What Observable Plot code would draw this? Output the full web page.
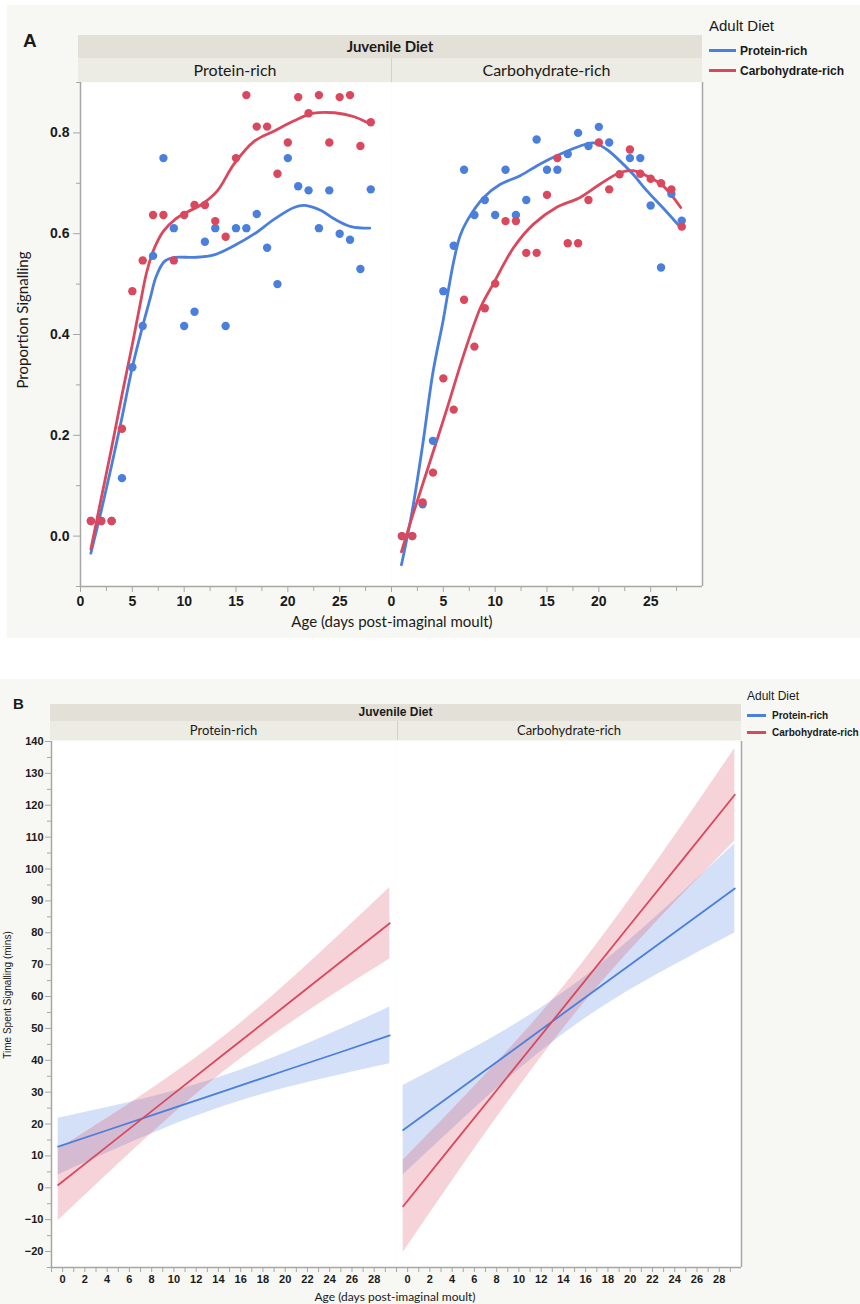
<!DOCTYPE html>
<html>
<head>
<meta charset="utf-8">
<script src="https://cdn.jsdelivr.net/npm/d3@7"></script>
<script src="https://cdn.jsdelivr.net/npm/@observablehq/plot@0.6"></script>
<style>
  body { margin: 0; background: #ffffff; }
  #root { position: relative; width: 860px; height: 1304px; overflow: hidden; font-family: "Liberation Sans", Arial, sans-serif; color: #1a1a1a; }
  #root svg { position: absolute; left: 0; overflow: visible; }
</style>
</head>
<body>
<div id="root"></div>
<script>
// ---------------- DATA ----------------
const juvenileDiets = ["Protein-rich", "Carbohydrate-rich"];
const adultDiets = ["Protein-rich", "Carbohydrate-rich"];
const ages = [1,2,3,4,5,6,7,8,9,10,11,12,13,14,15,16,17,18,19,20,21,22,23,24,25,26,27,28];

// Panel A: proportion signalling (JP = juvenile protein-rich, JC = juvenile carbohydrate-rich; AP / AC = adult diet)
const propJP_AP = [0.03,0.03,0.03,0.115,0.335,0.417,0.556,0.75,0.611,0.417,0.445,0.584,0.611,0.417,0.611,0.611,0.639,0.572,0.50,0.75,0.694,0.686,0.611,0.686,0.60,0.588,0.530,0.688];
const propJP_AC = [0.03,0.03,0.03,0.213,0.486,0.547,0.637,0.637,0.547,0.637,0.657,0.657,0.625,0.594,0.75,0.875,0.8125,0.8125,0.719,0.781,0.871,0.839,0.875,0.781,0.871,0.875,0.774,0.821];
const propJC_AP = [0,0,0.063,0.189,0.486,0.576,0.727,0.637,0.667,0.637,0.727,0.637,0.667,0.787,0.727,0.727,0.758,0.80,0.774,0.812,0.781,null,0.75,0.75,0.656,0.533,0.679,0.626];
const propJC_AC = [0,0,0.067,0.126,0.313,0.251,0.469,0.376,0.452,0.501,0.625,0.625,0.562,0.562,0.677,0.75,0.581,0.581,0.667,0.781,0.688,0.718,0.767,0.719,0.709,0.70,0.688,0.614];

// Panel A: smoothers
const smJP_AP_age = [1,2,3,4,5,6,6.7,7.3,8.1,9.1,11,12.9,14.8,16.8,18.7,20.6,21.6,23.2,24.5,26.1,27.9];
const smJP_AP     = [-0.034,0.05,0.14,0.235,0.335,0.417,0.47,0.515,0.545,0.553,0.553,0.558,0.576,0.60,0.629,0.652,0.656,0.646,0.629,0.614,0.611];
const smJP_AC_age = [1,2,3,4,5,5.8,6.4,7.1,8.0,9.1,10.3,11.6,13.2,14.8,16.8,18.7,20.6,22.5,24.5,26.4,27.9];
const smJP_AC     = [-0.026,0.075,0.175,0.28,0.38,0.465,0.525,0.57,0.605,0.628,0.643,0.657,0.685,0.738,0.784,0.804,0.824,0.839,0.840,0.832,0.818];
const smJC_AP_age = [0.96,2,3,4,5,5.5,6,6.6,7.3,8.9,10.5,12.4,14.3,16.3,18.2,19.5,20.7,22,23.3,24.6,26.2,27.9];
const smJC_AP     = [-0.057,0.05,0.18,0.325,0.43,0.49,0.545,0.595,0.626,0.672,0.698,0.715,0.738,0.758,0.774,0.78,0.768,0.745,0.718,0.686,0.651,0.612];
const smJC_AC_age = [0.96,2.1,3.75,5.4,7,8.6,9.8,11.8,13.7,15.9,18.2,20.1,22,23.3,24.6,26.2,27.9];
const smJC_AC     = [-0.031,0.045,0.15,0.256,0.362,0.454,0.50,0.573,0.619,0.652,0.672,0.698,0.721,0.725,0.715,0.695,0.652];

// Panel B: time spent signalling, fitted lines with confidence bands
const fitAges = [-0.4, 4, 9, 14.5, 20, 25, 29.4];
const tJP_AP_fit = [12.9, 18.05, 23.9, 30.35, 36.8, 42.6, 47.8];
const tJP_AP_lo  = [4.0, 10.9, 18.4, 25.55, 31.3, 35.5, 38.9];
const tJP_AP_hi  = [21.8, 25.2, 29.4, 35.15, 42.3, 49.7, 56.7];
const tJP_AC_fit = [0.9, 13.0, 26.8, 41.95, 57.1, 70.9, 83.0];
const tJP_AC_lo  = [-10.3, 4.2, 20.2, 36.45, 50.5, 62.1, 71.8];
const tJP_AC_hi  = [12.1, 21.8, 33.4, 47.45, 63.7, 79.7, 94.2];
const tJC_AP_fit = [18.1, 29.3, 42.0, 56.0, 70.0, 82.7, 93.9];
const tJC_AP_lo  = [4.1, 18.4, 34.1, 49.5, 62.1, 71.8, 79.9];
const tJC_AP_hi  = [32.1, 40.2, 49.9, 62.5, 77.9, 93.6, 107.9];
const tJC_AC_fit = [-5.8, 13.3, 34.9, 58.7, 82.6, 104.2, 123.3];
const tJC_AC_lo  = [-20.3, 2.1, 26.8, 52.2, 74.5, 93.0, 108.8];
const tJC_AC_hi  = [8.7, 24.5, 43.0, 65.2, 90.7, 115.4, 137.8];

// Tick labels
const xTicksA = [0, 5, 10, 15, 20, 25];
const xMinorA = [2.5, 7.5, 12.5, 17.5, 22.5, 27.5];
const yTicksA = [0, 0.2, 0.4, 0.6, 0.8];
const yMinorA = [-0.1, 0.1, 0.3, 0.5, 0.7, 0.9];
const xTicksB = [0,2,4,6,8,10,12,14,16,18,20,22,24,26,28];
const xMinorB = [-1,1,3,5,7,9,11,13,15,17,19,21,23,25,27,29];
const yTicksB = [-20,-10,0,10,20,30,40,50,60,70,80,90,100,110,120,130,140];
const yMinorB = [-25,-15,-5,5,15,25,35,45,55,65,75,85,95,105,115,125,135];

// ---------------- STYLE ----------------
const blue = "#4a7fdc", red = "#d9485d";
const axisGray = "#a6a6a6";
const ink = "#1a1a1a";
const sans = "'Liberation Sans', Arial, sans-serif";
const cal = "Lato, 'Open Sans', sans-serif";

// ---------------- BUILD RECORDS ----------------
const pointsA = [];
function addPts(juv, adult, vals) { vals.forEach((v, i) => { if (v != null) pointsA.push({juv, adult, age: ages[i], p: v}); }); }
addPts(juvenileDiets[0], adultDiets[0], propJP_AP);
addPts(juvenileDiets[1], adultDiets[0], propJC_AP);
addPts(juvenileDiets[0], adultDiets[1], propJP_AC);
addPts(juvenileDiets[1], adultDiets[1], propJC_AC);

const smoothA = [];
function addSm(juv, adult, xs, ys) { xs.forEach((x, i) => smoothA.push({juv, adult, key: juv + "|" + adult, age: x, p: ys[i]})); }
addSm(juvenileDiets[0], adultDiets[0], smJP_AP_age, smJP_AP);
addSm(juvenileDiets[0], adultDiets[1], smJP_AC_age, smJP_AC);
addSm(juvenileDiets[1], adultDiets[0], smJC_AP_age, smJC_AP);
addSm(juvenileDiets[1], adultDiets[1], smJC_AC_age, smJC_AC);

const bandsB = [];
function addBand(juv, adult, fit, lo, hi) { fitAges.forEach((x, i) => bandsB.push({juv, adult, age: x, fit: fit[i], lo: lo[i], hi: hi[i]})); }
addBand(juvenileDiets[0], adultDiets[0], tJP_AP_fit, tJP_AP_lo, tJP_AP_hi);
addBand(juvenileDiets[1], adultDiets[0], tJC_AP_fit, tJC_AP_lo, tJC_AP_hi);
addBand(juvenileDiets[0], adultDiets[1], tJP_AC_fit, tJP_AC_lo, tJP_AC_hi);
addBand(juvenileDiets[1], adultDiets[1], tJC_AC_fit, tJC_AC_lo, tJC_AC_hi);

// ---------------- HTML HELPERS ----------------
const root = document.getElementById("root");
function el(css, text) {
  const e = document.createElement("div");
  e.style.position = "absolute";
  for (const k in css) e.style[k] = typeof css[k] === "number" ? css[k] + "px" : css[k];
  if (text != null) e.textContent = text;
  root.appendChild(e);
  return e;
}

// Panel backgrounds
el({left: 7, top: 5, width: 853, height: 633, background: "#f7f7f3"});
el({left: 0, top: 679, width: 860, height: 625, background: "#f7f7f3"});

// Panel letters
el({left: 23, top: 30, fontSize: "19px", fontFamily: sans, lineHeight: "22px", fontWeight: "bold"}, "A");
el({left: 13, top: 695, fontSize: "15px", fontFamily: sans, lineHeight: "18px", fontWeight: "bold"}, "B");

// ---------------- PANEL A ----------------
const plotA = Plot.plot({
  width: 860, height: 640,
  marginLeft: 79, marginRight: 158, marginTop: 82, marginBottom: 54,
  style: {background: "transparent", fontFamily: sans, fontSize: "14px", color: ink},
  fx: {domain: juvenileDiets, padding: 0, axis: null, label: null},
  x: {domain: [0, 30], label: null},
  y: {domain: [-0.1, 0.9], label: null},
  color: {domain: adultDiets, range: [blue, red]},
  marks: [
    Plot.frame({fill: "white", stroke: null}),
    Plot.ruleY([-0.1], {stroke: axisGray, strokeWidth: 1.5}),
    Plot.ruleX([{juv: juvenileDiets[0], x: 0}], {x: "x", fx: "juv", stroke: axisGray, strokeWidth: 1.5}),
    Plot.ruleX([{juv: juvenileDiets[1], x: 30}], {x: "x", fx: "juv", stroke: axisGray, strokeWidth: 1.5}),
    Plot.axisY(yTicksA, {tickSize: 7, tickPadding: 4, tickFormat: d3.format(".1f"), stroke: axisGray, fill: ink, fontSize: 14, fontWeight: "bold", label: null}),
    Plot.axisY(yMinorA, {tickSize: 4, tickFormat: () => "", stroke: axisGray, label: null}),
    Plot.axisX(xTicksA, {tickSize: 6, tickPadding: 4, stroke: axisGray, fill: ink, fontSize: 14, fontWeight: "bold", label: null}),
    Plot.axisX(xMinorA, {tickSize: 5, tickFormat: () => "", stroke: axisGray, label: null}),
    Plot.line(smoothA, {x: "age", y: "p", fx: "juv", stroke: "adult", z: "key", strokeWidth: 2.8, curve: "catmull-rom"}),
    Plot.dot(pointsA, {x: "age", y: "p", fx: "juv", fill: "adult", r: 4.2})
  ]
});
plotA.style.top = "0px";
root.appendChild(plotA);

// Panel A headers
el({left: 78, top: 35, width: 624, height: 23, background: "#e2e0d7", textAlign: "center", lineHeight: "23px", fontFamily: cal, fontWeight: "bold", fontSize: "15px"}, "Juvenile Diet");
el({left: 78, top: 58, width: 624, height: 24, background: "#ecebe4"});
el({left: 79, top: 58, width: 312, height: 24, textAlign: "center", lineHeight: "24px", fontFamily: cal, fontSize: "16px"}, juvenileDiets[0]);
el({left: 391, top: 58, width: 311, height: 24, textAlign: "center", lineHeight: "24px", fontFamily: cal, fontSize: "16px"}, juvenileDiets[1]);
el({left: 391, top: 58, width: 1, height: 24, background: "#d3d1c8"});

// Panel A axis titles
el({left: 192, top: 611, width: 400, height: 20, textAlign: "center", lineHeight: "20px", fontFamily: cal, fontSize: "15px"}, "Age (days post-imaginal moult)");
el({left: 22 - 100, top: 320 - 10, width: 200, height: 20, textAlign: "center", lineHeight: "20px", fontFamily: cal, fontSize: "15px", transform: "rotate(-90deg)"}, "Proportion Signalling");

// Panel A legend
el({left: 709, top: 16, fontFamily: sans, fontSize: "15px", lineHeight: "20px"}, "Adult Diet");
el({left: 709, top: 49, width: 27, height: 3, background: blue});
el({left: 740, top: 43, fontFamily: sans, fontSize: "12px", fontWeight: "bold", lineHeight: "16px"}, adultDiets[0]);
el({left: 709, top: 69, width: 27, height: 3, background: red});
el({left: 740, top: 63, fontFamily: sans, fontSize: "12px", fontWeight: "bold", lineHeight: "16px"}, adultDiets[1]);

// ---------------- PANEL B ----------------
const plotB = Plot.plot({
  width: 860, height: 624,
  marginLeft: 50, marginRight: 119, marginTop: 61, marginBottom: 37,
  style: {background: "transparent", fontFamily: sans, fontSize: "11px", color: ink},
  fx: {domain: juvenileDiets, padding: 0, axis: null, label: null},
  x: {domain: [-1, 30], label: null},
  y: {domain: [-25, 140], label: null},
  color: {domain: adultDiets, range: [blue, red]},
  marks: [
    Plot.frame({fill: "white", stroke: null}),
    Plot.areaY(bandsB, {x: "age", y1: "lo", y2: "hi", fx: "juv", fill: "adult", z: "adult", fillOpacity: 0.24, curve: "natural"}),
    Plot.line(bandsB, {x: "age", y: "fit", fx: "juv", stroke: "adult", z: "adult", strokeWidth: 1.8}),
    Plot.ruleY([-25], {stroke: axisGray, strokeWidth: 1.5}),
    Plot.ruleX([{juv: juvenileDiets[0], x: -1}], {x: "x", fx: "juv", stroke: axisGray, strokeWidth: 1.5}),
    Plot.ruleX([{juv: juvenileDiets[1], x: 30}], {x: "x", fx: "juv", stroke: axisGray, strokeWidth: 1.5}),
    Plot.axisY(yTicksB, {tickSize: 6, tickPadding: 2, stroke: axisGray, fill: ink, fontSize: 11, fontWeight: "bold", label: null}),
    Plot.axisY(yMinorB, {tickSize: 4, tickFormat: () => "", stroke: axisGray, label: null}),
    Plot.axisX(xTicksB, {tickSize: 5, tickPadding: 3, stroke: axisGray, fill: ink, fontSize: 11, fontWeight: "bold", label: null}),
    Plot.axisX(xMinorB, {tickSize: 5, tickFormat: () => "", stroke: axisGray, label: null})
  ]
});
plotB.style.top = "680px";
root.appendChild(plotB);

// Panel B headers
el({left: 50, top: 704, width: 691, height: 17, background: "#e2e0d7", textAlign: "center", lineHeight: "17px", fontFamily: sans, fontWeight: "bold", fontSize: "12px"}, "Juvenile Diet");
el({left: 50, top: 721, width: 691, height: 19, background: "#ecebe4"});
el({left: 50, top: 721, width: 347, height: 19, textAlign: "center", lineHeight: "19px", fontFamily: cal, fontSize: "13px"}, juvenileDiets[0]);
el({left: 397, top: 721, width: 344, height: 19, textAlign: "center", lineHeight: "19px", fontFamily: cal, fontSize: "13px"}, juvenileDiets[1]);
el({left: 397, top: 721, width: 1, height: 19, background: "#d3d1c8"});

// Panel B axis titles
el({left: 195, top: 1289, width: 400, height: 16, textAlign: "center", lineHeight: "16px", fontFamily: cal, fontSize: "12px"}, "Age (days post-imaginal moult)");
el({left: 8 - 100, top: 995 - 8, width: 200, height: 16, textAlign: "center", lineHeight: "16px", fontFamily: sans, fontSize: "10px", transform: "rotate(-90deg)"}, "Time Spent Signalling (mins)");

// Panel B legend
el({left: 747, top: 688, fontFamily: sans, fontSize: "12px", lineHeight: "16px"}, "Adult Diet");
el({left: 747, top: 714, width: 19, height: 2.5, background: blue});
el({left: 772, top: 709, fontFamily: sans, fontSize: "10px", fontWeight: "bold", lineHeight: "14px"}, adultDiets[0]);
el({left: 747, top: 731, width: 19, height: 2.5, background: red});
el({left: 772, top: 726, fontFamily: sans, fontSize: "10px", fontWeight: "bold", lineHeight: "14px"}, adultDiets[1]);
</script>
</body>
</html>
